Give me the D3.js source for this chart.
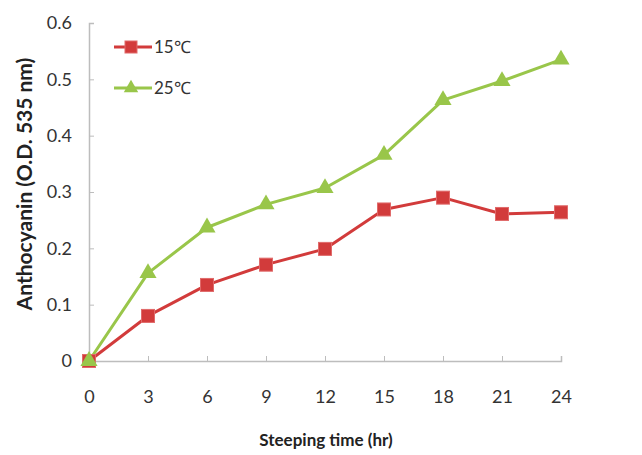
<!DOCTYPE html>
<html><head><meta charset="utf-8">
<script src="https://cdn.jsdelivr.net/npm/d3@7"></script>
<style>body{margin:0;background:#fff;}svg{display:block;}</style>
</head><body>
<script>
const hours = [0, 3, 6, 9, 12, 15, 18, 21, 24];
const series15 = [0, 0.08, 0.135, 0.171, 0.199, 0.269, 0.290, 0.261, 0.264];
const series25 = [0, 0.156, 0.237, 0.278, 0.307, 0.366, 0.463, 0.497, 0.535];
const yTicks = [0, 0.1, 0.2, 0.3, 0.4, 0.5, 0.6];
const xTicks = [0, 3, 6, 9, 12, 15, 18, 21, 24];
const seriesNames = ["15\u2103", "25\u2103"];
const colors = ["#d23b3b", "#99c64a"];

const W = 642, H = 455;
const svg = d3.select("body").append("svg").attr("width", W).attr("height", H);
const x = d3.scaleLinear().domain([0, 24]).range([89, 561]);
const y = d3.scaleLinear().domain([0, 0.6]).range([361, 23]);
const font = "Lato, 'Open Sans', sans-serif";

// axes
const xAxis = d3.axisBottom(x).tickValues(xTicks).tickSize(-5).tickPadding(29).tickFormat(d3.format("d"));
const gx = svg.append("g").attr("transform", `translate(0,${y(0)})`).call(xAxis);
const yAxis = d3.axisLeft(y).tickValues(yTicks).tickSize(-5).tickPadding(17).tickFormat(d => d === 0 ? "0" : d3.format(".1f")(d));
const gy = svg.append("g").attr("transform", `translate(${x(0)},0)`).call(yAxis);
[gx, gy].forEach(g => {
  g.select(".domain").attr("stroke", "#bdbdbd").attr("stroke-width", 1.5);
  g.selectAll(".tick line").attr("stroke", "#bdbdbd");
  g.selectAll(".tick text").attr("fill", "#333").style("font-family", font).style("font-size", "18px");
});

// lines
const data = [series15, series25];
const line = d3.line().x((d, i) => x(hours[i])).y(d => y(d));
data.forEach((s, k) => {
  svg.append("path").datum(s).attr("d", line).attr("fill", "none")
    .attr("stroke", colors[k]).attr("stroke-width", 3).attr("stroke-linejoin", "round");
});
// markers
function marker(g, k, cx, cy, size) {
  if (k === 0) {
    g.append("rect").attr("x", cx - size / 2).attr("y", cy - size / 2).attr("width", size).attr("height", size)
      .attr("fill", colors[0]).attr("stroke", "#e06a6a").attr("stroke-width", 1);
  } else {
    g.append("path").attr("d", d3.symbol().type(d3.symbolTriangle).size(size * size * 0.75)())
      .attr("transform", `translate(${cx},${cy})`).attr("fill", colors[1]);
  }
}
data.forEach((s, k) => {
  const g = svg.append("g");
  s.forEach((v, i) => marker(g, k, x(hours[i]), y(v), 13));
});

// legend
const legY = [47, 88];
seriesNames.forEach((name, k) => {
  const g = svg.append("g");
  g.append("line").attr("x1", 114).attr("x2", 152).attr("y1", legY[k]).attr("y2", legY[k])
    .attr("stroke", colors[k]).attr("stroke-width", 3);
  marker(g, k, 131, legY[k], k === 0 ? 12 : 11);
  g.append("text").attr("x", 154).attr("y", legY[k] + 6).text(name)
    .style("font-family", font).style("font-size", "17px").attr("fill", "#333");
});

// axis titles
svg.append("text").attr("transform", `translate(32,184) rotate(-90)`).attr("text-anchor", "middle")
  .text("Anthocyanin (O.D. 535 nm)").style("font-family", font).style("font-weight", "bold")
  .style("font-size", "21px").attr("fill", "#222");
svg.append("text").attr("x", 326).attr("y", 446).attr("text-anchor", "middle")
  .text("Steeping time (hr)").style("font-family", font).style("font-weight", "bold")
  .style("font-size", "17px").attr("fill", "#222");
</script>
</body></html>
